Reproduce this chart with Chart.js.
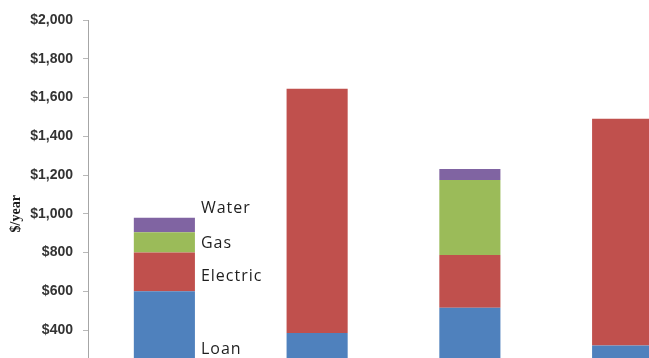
<!DOCTYPE html>
<html>
<head>
<meta charset="utf-8">
<script src="https://cdn.jsdelivr.net/npm/chart.js@4"></script>
<style>
    html, body { margin: 0; padding: 0; background: #fff; overflow: hidden; }
    #wrap { width: 649px; height: 358px; overflow: hidden; }
</style>
</head>
<body>
<div id="wrap">
    <canvas id="costChart" width="712" height="450"></canvas>
</div>
<script>
// values ($/year)
const categories = ['Option 1', 'Option 2', 'Option 3', 'Option 4']
const loan = [600, 385, 515, 320]
const electric = [200, 1260, 272, 1170]
const gas = [105, 0, 387, 0]
const water = [75, 0, 57, 0]

const seriesNames = ['Loan', 'Electric', 'Gas', 'Water']
const seriesColors = ['#4F81BD', '#C0504D', '#9BBB59', '#8064A2']
// nudge for the labels next to the first bar
const labelNudge = [0, 5, 1, -16]

const barLabels = {
    id: 'barLabels',
    afterDatasetsDraw(chart) {
        let ctx = chart.ctx
        ctx.save()
        ctx.font = '16px "Open Sans"'
        ctx.fillStyle = '#1f1f1f'
        ctx.textBaseline = 'middle'
        ctx.letterSpacing = '1px'
        chart.data.datasets.forEach((ds, i) => {
            let bar = chart.getDatasetMeta(i).data[0]
            let mid = (bar.y + bar.base) / 2
            ctx.fillText(ds.label, bar.x + bar.width / 2 + 6, mid + labelNudge[i])
        })
        ctx.restore()
    }
}

function drawCostChart(id) {
    let values = [loan, electric, gas, water]
    let datasets = []
    for (let i = 0; i < values.length; i++)
        datasets.push({
            label: seriesNames[i],
            data: values[i],
            backgroundColor: seriesColors[i],
            barPercentage: 0.5,
            categoryPercentage: 0.8
        })

    const config = {
        type: 'bar',
        data: { labels: categories, datasets: datasets },
        options: {
            responsive: false,
            animation: false,
            layout: { padding: { top: 20, right: 13, left: 0, bottom: 0 } },
            plugins: {
                legend: { display: false },
                tooltip: { enabled: false }
            },
            scales: {
                x: {
                    stacked: true,
                    grid: { display: false },
                    border: { display: false },
                    ticks: { color: '#333', font: { size: 14, family: 'Liberation Sans' } },
                    afterFit(scale) { scale.height = 42.5 }
                },
                y: {
                    stacked: true,
                    min: 0,
                    max: 2000,
                    ticks: {
                        stepSize: 200,
                        padding: 10,
                        color: '#333',
                        font: { size: 14, weight: 'bold', family: 'Liberation Sans' },
                        callback: v => '$' + v.toLocaleString('en-US')
                    },
                    grid: { drawOnChartArea: false, tickLength: 5, color: '#b8b8b8' },
                    border: { color: '#a6a6a6' },
                    title: {
                        display: true,
                        text: '$/year',
                        color: '#1a1a1a',
                        padding: { top: 8, bottom: 0 },
                        font: { size: 14, weight: 'bold', family: 'Liberation Serif' }
                    },
                    afterFit(scale) { scale.width = 88 }
                }
            }
        },
        plugins: [barLabels]
    }

    let ctx = document.getElementById(id).getContext('2d')
    new Chart(ctx, config)
}

drawCostChart('costChart')
</script>
</body>
</html>
